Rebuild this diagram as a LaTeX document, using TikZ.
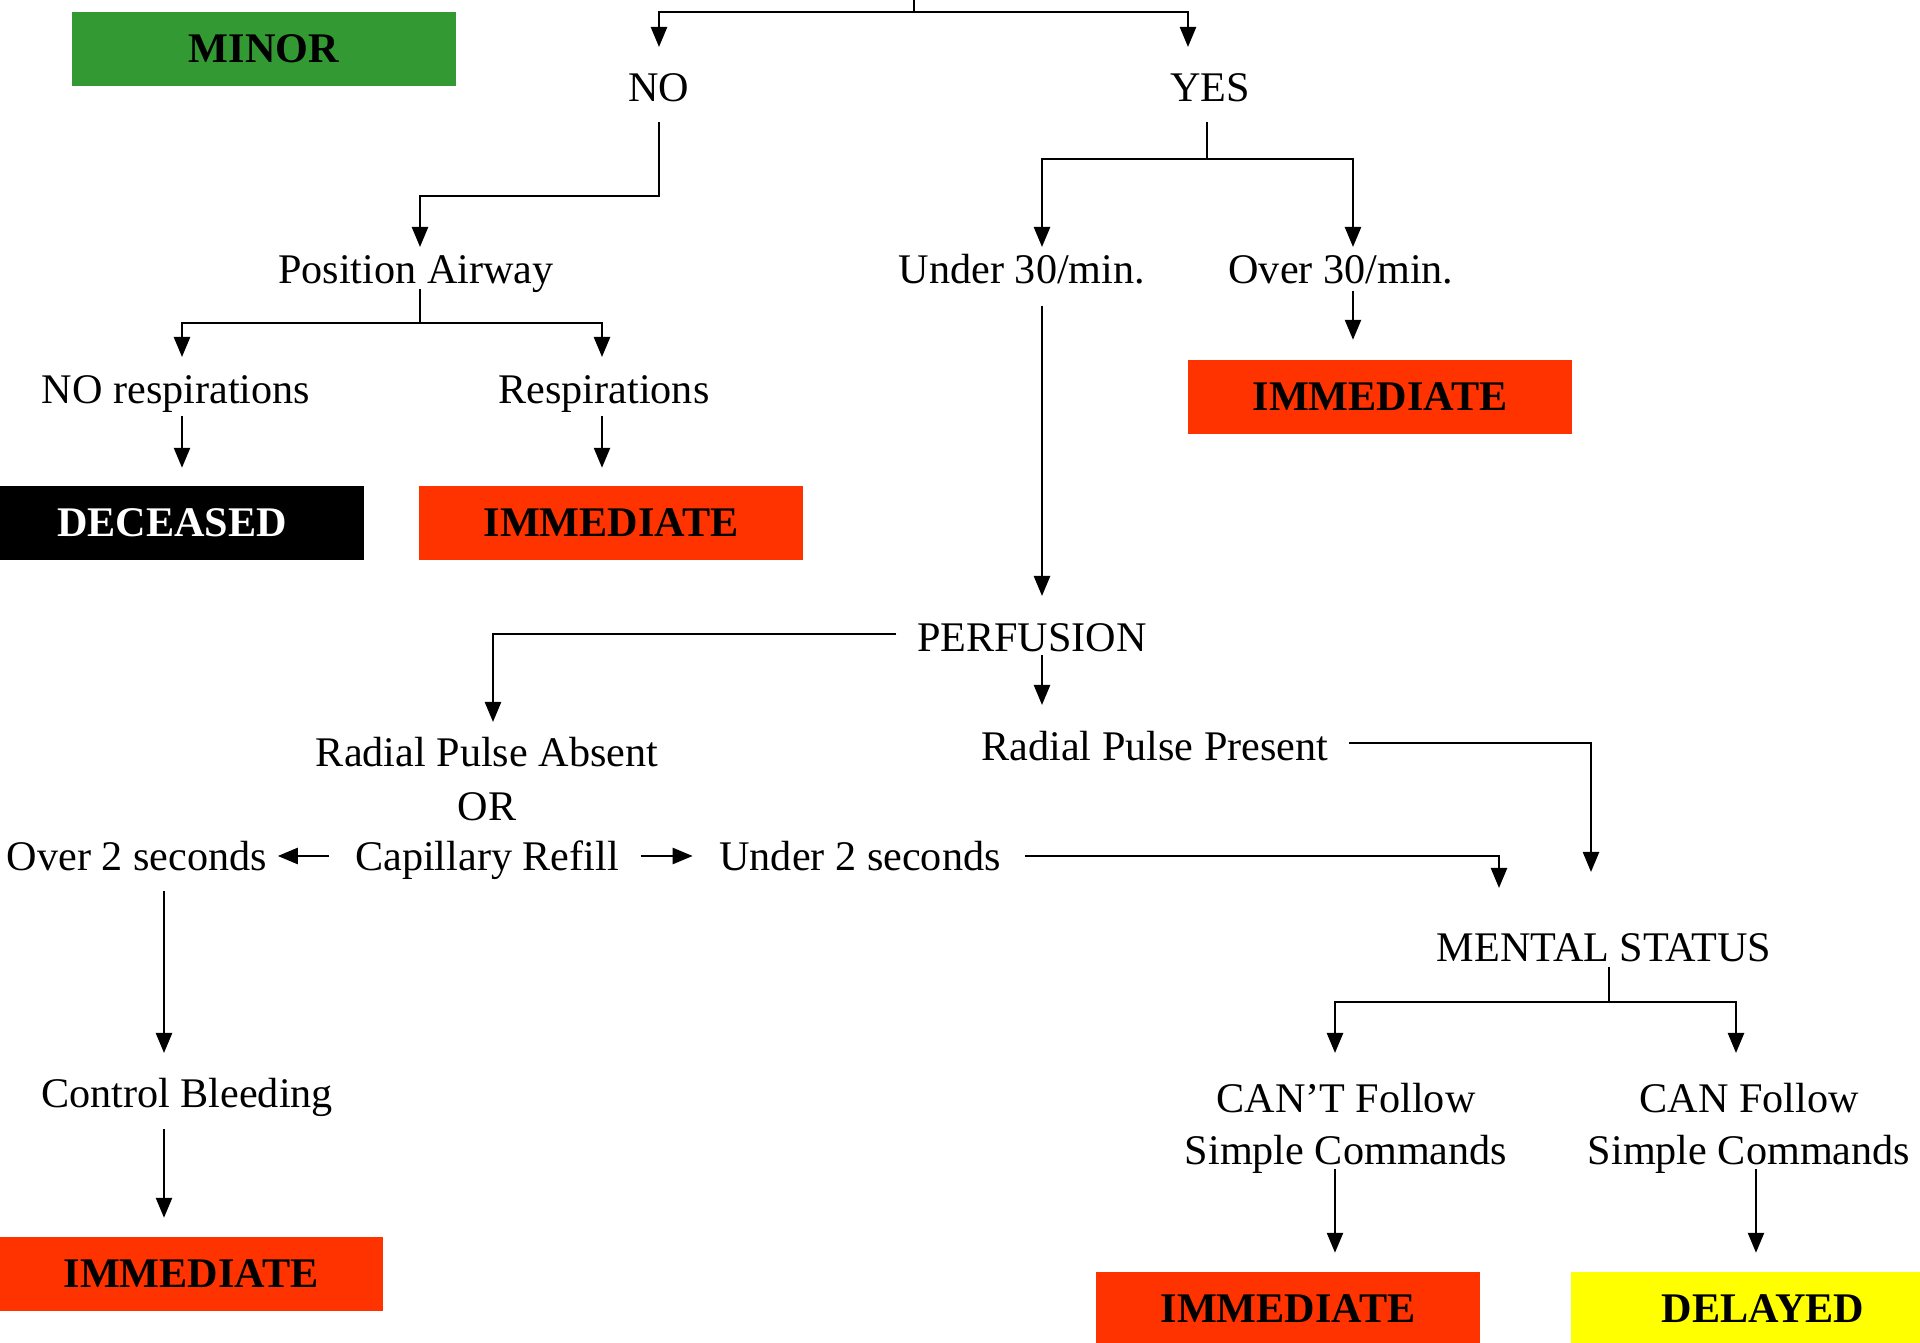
\documentclass[tikz,border=0pt]{standalone}
\usepackage{fontspec}
\setmainfont{Liberation Serif}
\usetikzlibrary{arrows.meta,calc,positioning}

\definecolor{minorgreen}{RGB}{51,153,51}
\definecolor{immred}{RGB}{255,51,0}
\definecolor{delyellow}{RGB}{255,255,0}

\begin{document}
\begin{tikzpicture}[x=0.01cm, y=-0.01cm,
    lbl/.style={inner sep=0pt, align=center, text height=8pt, text depth=0pt,
        font=\fontsize{12}{14.8}\selectfont},
    tag/.style={rectangle, minimum width=3.83cm, minimum height=0.73cm, inner sep=0pt,
        font=\fontsize{12}{14.8}\selectfont\bfseries},
    arr/.style={-{Triangle[length=2mm,width=1.6mm]}, line width=0.7pt}]
    \useasboundingbox (0,0) rectangle (1920,1343);

    % Nodes
    \coordinate (top) at (914,-5);
    \node[tag, fill=minorgreen] (minor) at (264,49) {MINOR};
    \node[lbl] (no) at (659,87) {NO};
    \node[lbl] (yes) at (1210,87) {YES};
    \node[lbl] (airway) at (416,269) {Position Airway};
    \node[lbl] (norsp) at (176,389) {NO respirations};
    \node[lbl] (rsp) at (604,389) {Respirations};
    \node[tag, fill=black, text=white] (deceased) at (172,523) {DECEASED};
    \node[tag, fill=immred] (imm1) at (611,523) {IMMEDIATE};
    \node[lbl] (under30) at (1022,269) {Under 30/min.};
    \node[lbl] (over30) at (1341,269) {Over 30/min.};
    \node[tag, fill=immred] (imm2) at (1380,397) {IMMEDIATE};
    \node[lbl] (perf) at (1032,637) {PERFUSION};
    \node[lbl] (rpabsent) at (487,752) {Radial Pulse Absent};
    \node[lbl] (or) at (487,806) {OR};
    \node[lbl] (caprefill) at (487,856) {Capillary Refill};
    \node[lbl] (rppresent) at (1155,746) {Radial Pulse Present};
    \node[lbl] (over2) at (137,856) {Over 2 seconds};
    \node[lbl] (under2) at (860,856) {Under 2 seconds};
    \node[lbl] (bleed) at (187,1093) {Control Bleeding};
    \node[tag, fill=immred] (imm3) at (191,1274) {IMMEDIATE};
    \node[lbl] (mental) at (1604,947) {MENTAL STATUS};
    \node[lbl] (cant) at (1346,1150) {CAN'T Follow\\Simple Commands};
    \node[lbl] (can) at (1749,1150) {CAN Follow\\Simple Commands};
    \node[tag, fill=immred] (imm4) at (1288,1309) {IMMEDIATE};
    \node[tag, fill=delyellow] (delayed) at (1763,1309) {DELAYED};

    % Edges
    \draw[arr] (top) -- ++(0,17) -| ($(no)+(0,-40)$);
    \draw[arr] (top) -- ++(0,17) -| ($(yes)+(-22,-40)$);
    \draw[arr] ($(no)+(0,35)$) -- ++(0,74) -| ($(airway)+(4,-22)$);
    \draw[arr] ($(airway)+(4,20)$) -- ++(0,34) -| ($(norsp)+(6,-32)$);
    \draw[arr] ($(airway)+(4,20)$) -- ++(0,34) -| ($(rsp)+(-2,-32)$);
    \draw[arr] ($(norsp)+(6,27)$) -- ($(deceased.north)+(10,-18)$);
    \draw[arr] ($(rsp)+(-2,27)$) -- ($(imm1.north)+(-9,-18)$);
    \draw[arr] ($(yes)+(-3,35)$) -- ++(0,37) -| ($(under30)+(20,-22)$);
    \draw[arr] ($(yes)+(-3,35)$) -- ++(0,37) -| ($(over30)+(12,-22)$);
    \draw[arr] ($(over30)+(12,22)$) -- ($(imm2.north)+(-27,-20)$);
    \draw[arr] ($(under30)+(20,37)$) -- ($(perf)+(10,-41)$);
    \draw[arr] ($(perf.west)+(-20,-3)$) -| ($(rpabsent)+(6,-30)$);
    \draw[arr] ($(perf)+(10,18)$) -- ($(rppresent)+(-113,-41)$);
    \draw[arr] ($(rppresent.east)+(20,-3)$) -| ($(mental)+(-13,-75)$);
    \draw[arr] ($(caprefill.west)+(-25,0)$) -- ($(over2.east)+(10,0)$);
    \draw[arr] ($(caprefill.east)+(21,0)$) -- ($(under2.west)+(-26,0)$);
    \draw[arr] ($(under2.east)+(24,0)$) -| ($(mental)+(-105,-59)$);
    \draw[arr] ($(over2)+(27,35)$) -- ($(bleed)+(-23,-40)$);
    \draw[arr] ($(bleed)+(-23,36)$) -- ($(imm3.north)+(-27,-19)$);
    \draw[arr] ($(mental)+(5,20)$) -- ++(0,35) -| ($(cant)+(-11,-97)$);
    \draw[arr] ($(mental)+(5,20)$) -- ++(0,35) -| ($(can)+(-13,-97)$);
    \draw[arr] ($(cant)+(-11,19)$) -- ($(imm4.north)+(47,-19)$);
    \draw[arr] ($(can)+(7,19)$) -- ($(delayed.north)+(-7,-19)$);
\end{tikzpicture}
\end{document}
